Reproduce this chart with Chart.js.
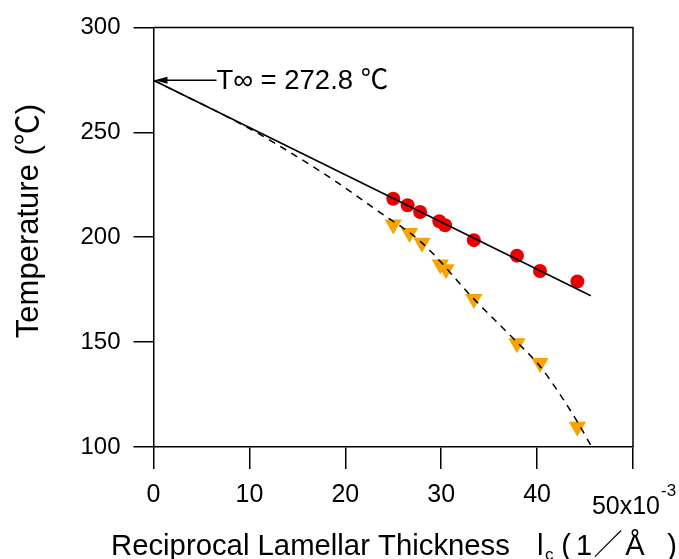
<!DOCTYPE html>
<html><head><meta charset="utf-8">
<script src="https://cdn.jsdelivr.net/npm/chart.js@4.4.0/dist/chart.umd.min.js"></script>
<style>html,body{margin:0;padding:0;background:#fff;overflow:hidden}canvas{display:block}</style>
</head><body>
<canvas id="c" width="679" height="559"></canvas>
<script>
// ---- data ----
const redX = [25.0, 26.5, 27.8, 29.8, 30.4, 33.4, 37.9, 40.3, 44.2];
const redY = [218.3, 215.2, 212.0, 207.6, 205.7, 198.6, 191.2, 183.9, 178.9];
const orangeX = [25.0, 26.7, 28.0, 29.9, 30.5, 33.4, 37.9, 40.3, 44.2];
const orangeY = [206.0, 202.0, 197.3, 187.0, 184.7, 170.5, 149.5, 140.0, 109.7];
const fitX = [0, 45.6];
const fitY = [274.8, 172.1];
const curveX = [0, 10, 16.3, 19.1, 23.3, 28.0, 33.4, 37.9, 40.3, 42.4, 44.2, 45.7];
const curveY = [274.8, 251.8, 234.6, 226.3, 212.8, 197.3, 170.6, 150.0, 138.5, 125.0, 112.0, 100.0];
const xTicks = [0, 10, 20, 30, 40, 50];
const yTicks = [100, 150, 200, 250, 300];
const interceptT = 274.8;
const annotationText = 'T\u221E = 272.8 \u2103';
const xTitleMain = 'Reciprocal Lamellar Thickness';
const xTitleSym = 'l';
const xTitleSub = 'c';
const xTitleUnit = ['(', '1', '\uFF0F', '\u00C5', ')'];
const yTitle = 'Temperature (\u2103)';
const xLastLabel = '50x10';
const xLastExp = '-3';

const FONT = '"Liberation Sans", Arial, "Noto Sans CJK JP", sans-serif';
const pts = (xs, ys) => xs.map((v, i) => ({x: v, y: ys[i]}));

const decor = {
  id: 'decor',
  afterDraw(chart) {
    const {ctx, chartArea: a, scales: {x, y}} = chart;
    ctx.save();
    // frame top + right
    ctx.strokeStyle = '#000';
    ctx.lineWidth = 1.5;
    ctx.beginPath();
    ctx.moveTo(a.left, a.top);
    ctx.lineTo(a.right, a.top);
    ctx.lineTo(a.right, a.bottom);
    ctx.stroke();

    ctx.fillStyle = '#000';
    // y title
    ctx.save();
    ctx.translate(29, 221);
    ctx.rotate(-Math.PI / 2);
    ctx.font = '31px ' + FONT;
    ctx.textAlign = 'center';
    ctx.textBaseline = 'middle';
    ctx.fillText(yTitle, 0, 0);
    ctx.restore();

    // x title with subscript
    ctx.textBaseline = 'alphabetic';
    ctx.textAlign = 'left';
    const by = 555;
    const sx = 111;
    ctx.font = '29.3px ' + FONT; ctx.fillText(xTitleMain, sx, by);
    ctx.fillText(xTitleSym, sx + 426, by);
    ctx.font = '17px ' + FONT; ctx.fillText(xTitleSub, sx + 434, by + 5);
    ctx.font = '29px ' + FONT;
    ctx.textAlign = 'center';
    const unitCenters = [455, 473, 497, 524, 561];
    xTitleUnit.forEach((ch, i) => ctx.fillText(ch, sx + unitCenters[i], by));
    ctx.textAlign = 'left';

    // last x tick label 50x10^-3
    const f1 = '25px ' + FONT, f2 = '17px ' + FONT;
    ctx.font = f1; const lw1 = ctx.measureText(xLastLabel).width;
    ctx.font = f2; const lw2 = ctx.measureText(xLastExp).width;
    const lx = x.getPixelForValue(50) + 1 - (lw1 + lw2 + 1) / 2;
    ctx.font = f1; ctx.fillText(xLastLabel, lx, 514);
    ctx.font = f2; ctx.fillText(xLastExp, lx + lw1 + 1, 496);

    // annotation arrow + text
    const tx = x.getPixelForValue(0) + 1, ty = y.getPixelForValue(interceptT);
    ctx.lineWidth = 1.5;
    ctx.beginPath();
    ctx.moveTo(tx + 8, ty);
    ctx.lineTo(tx + 62, ty);
    ctx.stroke();
    ctx.beginPath();
    ctx.moveTo(tx, ty);
    ctx.lineTo(tx + 13, ty - 3.5);
    ctx.lineTo(tx + 13, ty + 3.5);
    ctx.closePath();
    ctx.fill();
    ctx.font = '27.5px ' + FONT;
    ctx.textBaseline = 'alphabetic';
    ctx.fillText(annotationText, tx + 62, ty + 9);
    ctx.restore();
  }
};

new Chart(document.getElementById('c'), {
  type: 'scatter',
  data: {
    datasets: [
      {label: 'fit', data: pts(fitX, fitY), showLine: true, borderColor: '#000', borderWidth: 1.6,
       pointRadius: 0, order: 0},
      {label: 'curve', data: pts(curveX, curveY), showLine: true, borderColor: '#000', borderWidth: 1.5,
       borderDash: [7, 6], pointRadius: 0, cubicInterpolationMode: 'monotone', order: 0},
      {label: 'red', data: pts(redX, redY), pointStyle: 'circle', pointRadius: 7,
       backgroundColor: '#ee0000', borderColor: '#ee0000', borderWidth: 0, order: 1},
      {label: 'orange', data: pts(orangeX, orangeY), pointStyle: 'triangle', rotation: 180, pointRadius: 10,
       backgroundColor: '#f7a400', borderColor: '#f7a400', borderWidth: 0, order: 1}
    ]
  },
  options: {
    responsive: false,
    animation: false,
    devicePixelRatio: 1,
    layout: {padding: {top: 24, right: 46, left: 0, bottom: 0}},
    plugins: {legend: {display: false}, tooltip: {enabled: false}},
    scales: {
      x: {
        type: 'linear', min: 0, max: 50,
        afterFit(s) { s.height = 112; },
        afterBuildTicks(s) { s.ticks = xTicks.map(v => ({value: v})); },
        ticks: {autoSkip: false, maxRotation: 0, padding: 11, color: '#000',
                font: {family: FONT, size: 25},
                callback: v => (v === 50 ? '' : String(v))},
        grid: {drawOnChartArea: false, drawTicks: true, tickLength: 22, color: '#000', lineWidth: 1.5},
        border: {display: true, color: '#000', width: 1.5}
      },
      y: {
        type: 'linear', min: 100, max: 300,
        afterFit(s) { s.width = 153.5; },
        afterBuildTicks(s) { s.ticks = yTicks.map(v => ({value: v})); },
        ticks: {autoSkip: false, padding: 13, color: '#000',
                font: {family: FONT, size: 24}},
        grid: {drawOnChartArea: false, drawTicks: true, tickLength: 20, color: '#000', lineWidth: 1.5},
        border: {display: true, color: '#000', width: 1.5}
      }
    }
  },
  plugins: [decor]
});
</script>
</body></html>
